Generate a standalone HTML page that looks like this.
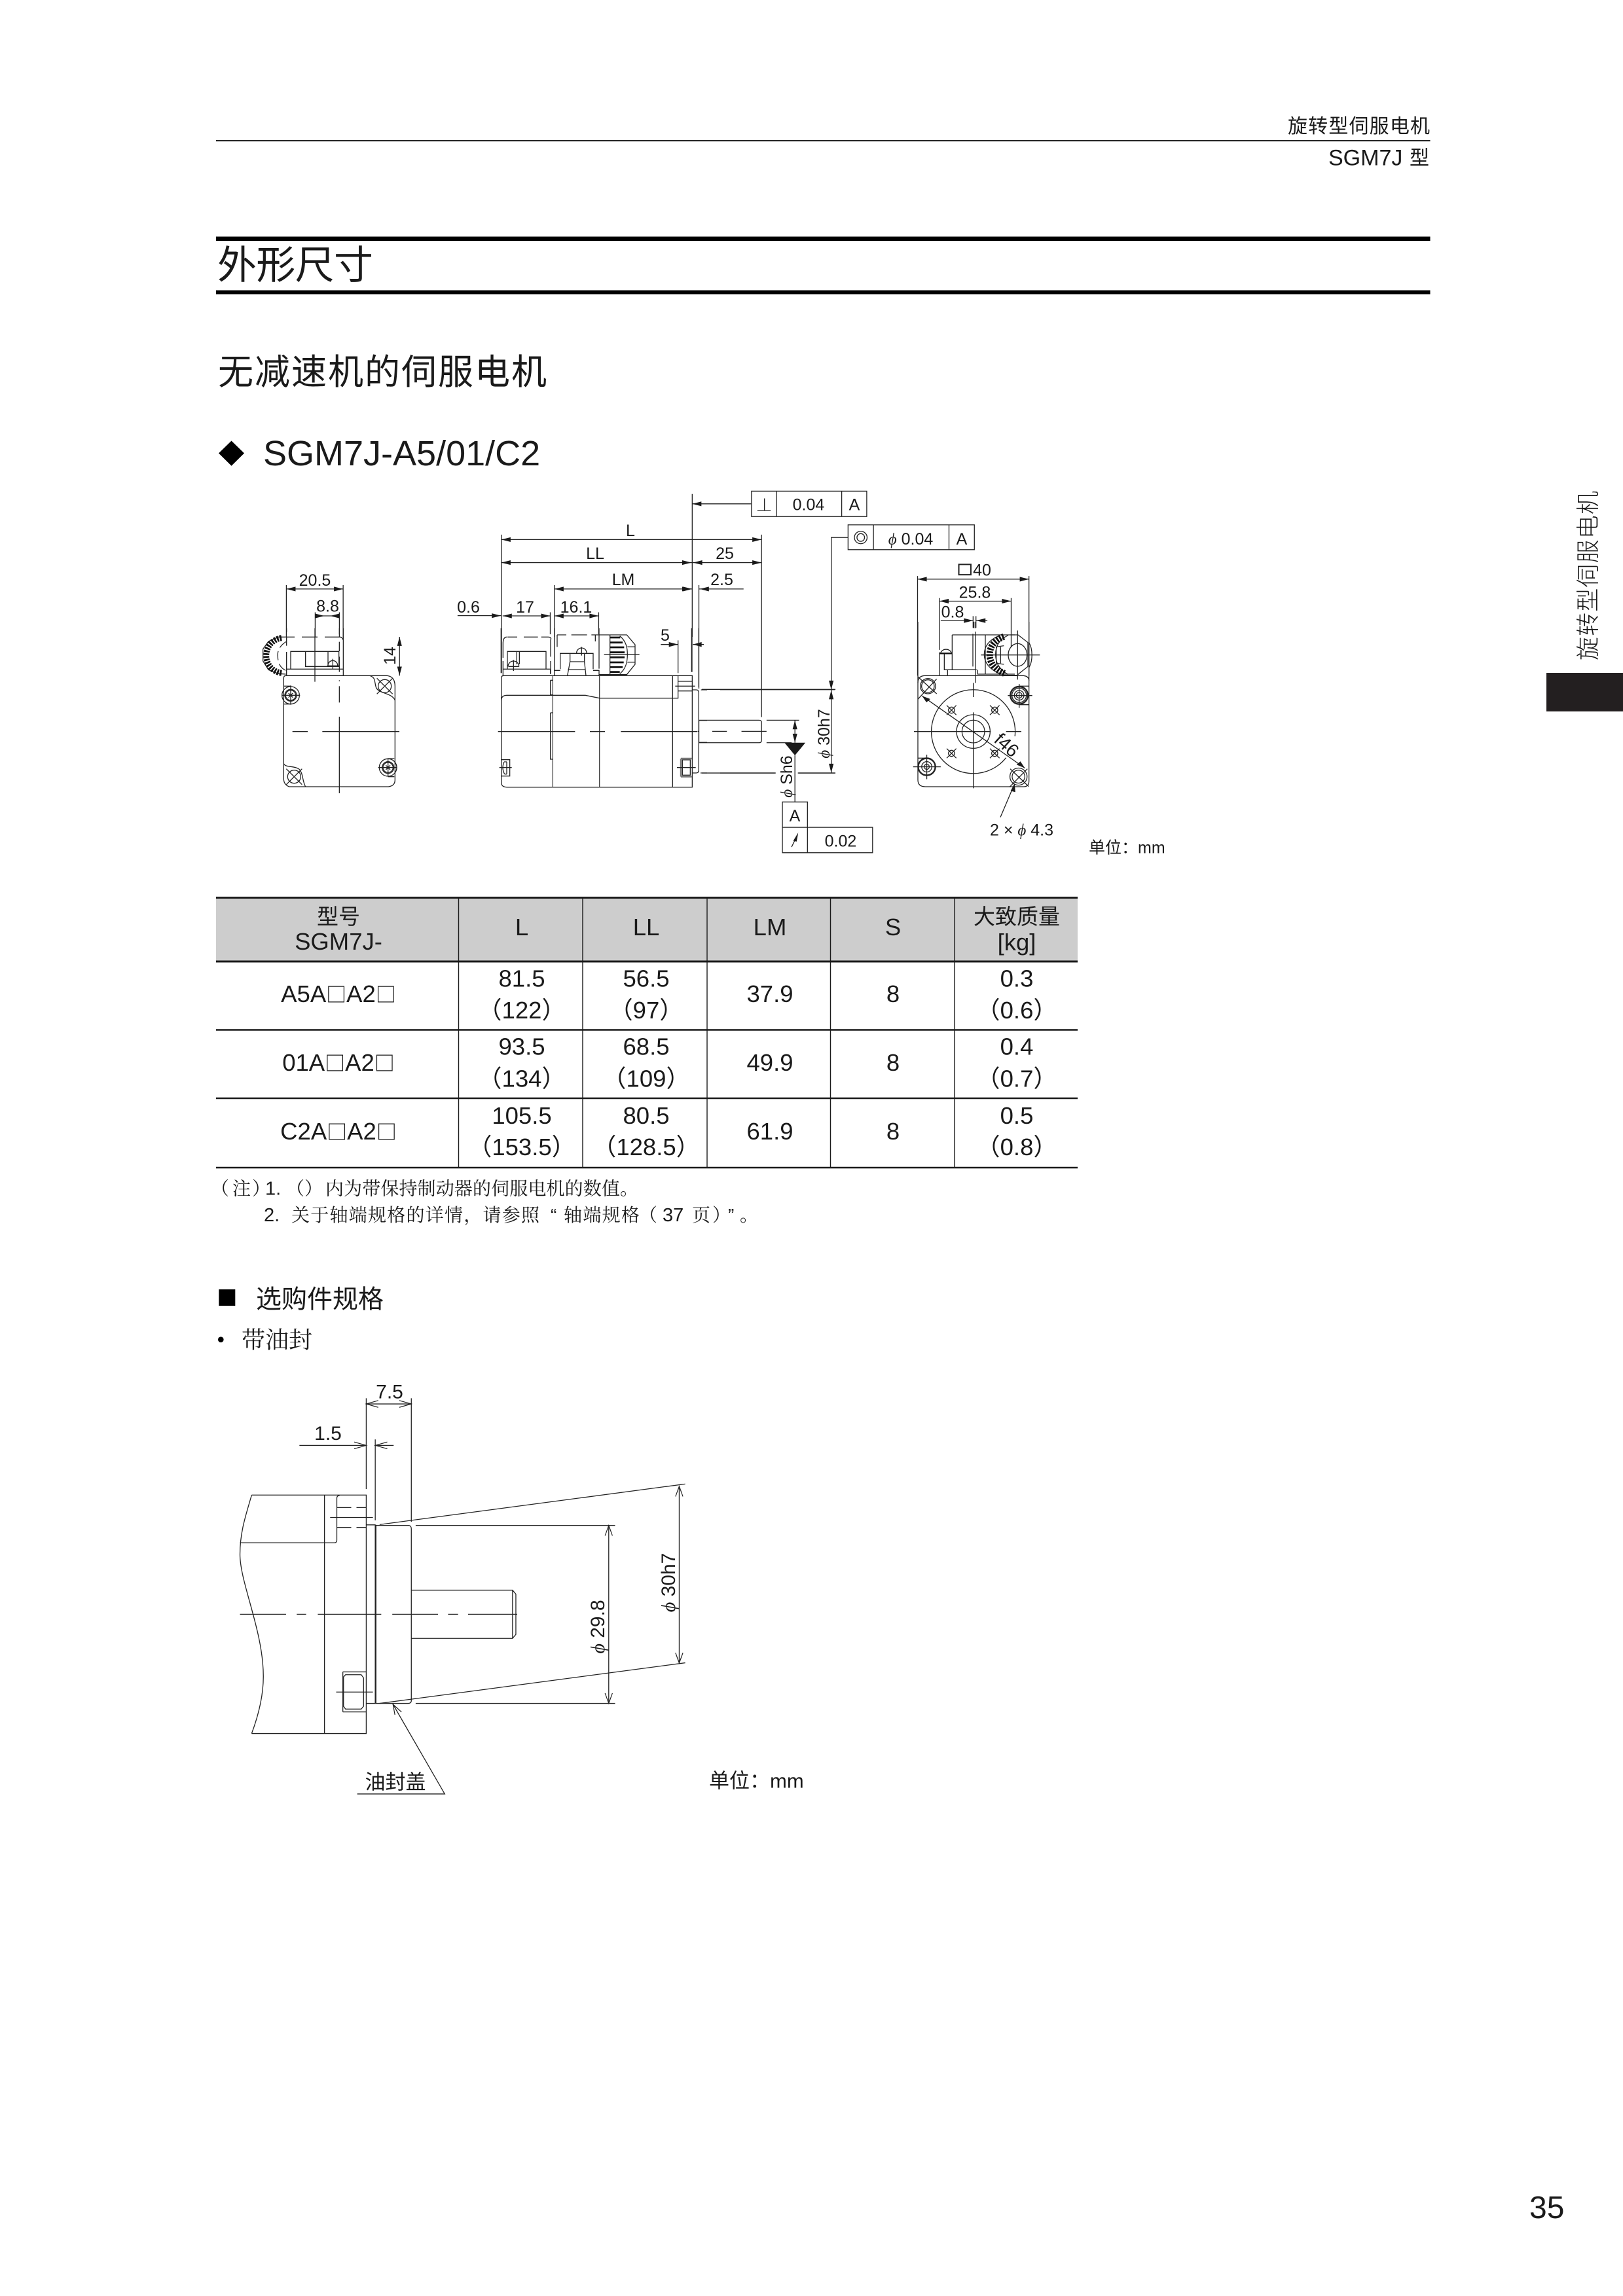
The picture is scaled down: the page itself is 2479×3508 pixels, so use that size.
<!DOCTYPE html>
<html lang="zh"><head><meta charset="utf-8"><title>SGM7J</title>
<style>
html,body{margin:0;padding:0;background:#fff}
svg{display:block}
path,line,rect,ellipse,polyline,circle{vector-effect:non-scaling-stroke}
text{fill:#1a1a1a;font-family:"Liberation Sans","Noto Sans CJK SC",sans-serif}
.d text{text-anchor:middle}
.c{text-anchor:middle}
.f{fill:#1a1a1a;stroke:none}
.sf{font-family:"Liberation Sans","Noto Serif CJK SC",serif}
.ph{font-family:"Liberation Serif","DejaVu Serif",serif;font-style:italic}
.bx{font-family:"Noto Sans CJK SC",sans-serif;font-size:31px;font-weight:500}
</style></head><body>
<svg xmlns="http://www.w3.org/2000/svg" width="2479" height="3508" viewBox="0 0 2479 3508">
<rect width="2479" height="3508" fill="#fff"/>
<defs>
<path id="r1" class="f" d="M0 0L-22 -9L-22 9Z"/><path id="l1" class="f" d="M0 0L22 -9L22 9Z"/>
<path id="u1" class="f" d="M0 0L-5.6 35L5.6 35Z"/><path id="d1" class="f" d="M0 0L-5.6 -35L5.6 -35Z"/>
<path id="r2" class="f" d="M0 0L-29 -9L-29 9Z"/><path id="l2" class="f" d="M0 0L29 -9L29 9Z"/>
<path id="u2" class="f" d="M0 0L-7.4 35L7.4 35Z"/><path id="d2" class="f" d="M0 0L-7.4 -35L7.4 -35Z"/>
<path id="r3" d="M-36 -12L0 0L-36 12" fill="none" stroke="#222" stroke-width="1.2"/>
<path id="l3" d="M36 -12L0 0L36 12" fill="none" stroke="#222" stroke-width="1.2"/>
<path id="u3" d="M-11 36L0 0L11 36" fill="none" stroke="#222" stroke-width="1.2"/>
<path id="d3" d="M-11 -36L0 0L11 -36" fill="none" stroke="#222" stroke-width="1.2"/>
</defs>

<!-- header -->
<text x="1967" y="203" font-size="30" textLength="217">旋转型伺服电机</text>
<rect x="330" y="214" width="1854.5" height="2" fill="#222"/>
<text x="2029" y="252.500" font-size="34">SGM7J</text>
<text x="2153" y="251.500" font-size="30">型</text>
<rect x="330" y="361.500" width="1854.5" height="6.500" fill="#000"/>
<rect x="330" y="443.500" width="1854.5" height="6" fill="#000"/>
<text x="332" y="426" font-size="60" textLength="238">外形尺寸</text>
<text x="333" y="587" font-size="54" textLength="502">无减速机的伺服电机</text>
<path d="M353.500 673.500L373 692.500L353.500 711.800L334 692.500Z" fill="#000"/>
<text x="402" y="711" font-size="54">SGM7J-A5/01/C2</text>
<text transform="translate(2438,1009) rotate(-90)" font-size="36" textLength="259" font-weight="300">旋转型伺服电机</text>
<rect x="2362" y="1028" width="117" height="59" fill="#231f20"/>
<text x="2336" y="3389" font-size="48">35</text>

<!-- drawing 1 dims -->
<g transform="translate(380,720) scale(.63776,.39541)" fill="none" stroke="#222" stroke-width="1.3">
<path d="M90 440V640M226 440V640M90 455H226M159 545V640M217 545V640M159 559H217M361 640V790"/>
<path d="M605 245V640M1228 245V950M1062 88V640M1078 440V840M732 440V640M838 545V630M722 545V630"/>
<path d="M605 264H1228M605 353H1228M732 455H1062M1078 455H1185M608 559H722M500 558H605M732 559H838"/>
<path d="M1062 126H1204M1204 77H1480V175H1204ZM1264 77V175M1420 77V175M1218 152H1250M1235 105V152"/>
<path d="M1085 843H1405M1085 1166H1260M1315 1166H1405"/>
<path d="M1240 962H1318M1240 1049H1300M1308 962V1049M1308 1098V1278"/>
<path d="M1278 1278H1338V1376H1278ZM1278 1376H1494V1474H1278ZM1338 1376V1474M1300 1452L1314 1405"/>
<path class="f" d="M1316 1396L1304 1428L1312 1431Z"/>
<path class="f" d="M1283 1049H1333L1308 1098Z"/>
<path d="M1078 962H1222Q1228 962 1228 970V1040Q1228 1049 1222 1049H1078V962"/>
<path d="M1078 1005H1075M1110 1005H1145M1180 1005H1240"/>
</g>
<g transform="translate(380,720) scale(.63776,.39541)">
<use href="#l1" x="90" y="455"/><use href="#r1" x="226" y="455"/>
<use href="#r1" x="181" y="559"/><use href="#l1" x="195" y="559"/><use href="#u1" x="361" y="640"/><use href="#d1" x="361" y="790"/>
<use href="#l1" x="605" y="264"/><use href="#r1" x="1228" y="264"/>
<use href="#l1" x="605" y="353"/><use href="#r1" x="1060" y="353"/><use href="#l1" x="1064" y="353"/><use href="#r1" x="1228" y="353"/>
<use href="#l1" x="732" y="455"/><use href="#r1" x="1060" y="455"/><use href="#r1" x="1062" y="455"/><use href="#l1" x="1080" y="455"/>
<use href="#l1" x="608" y="559"/><use href="#r1" x="722" y="559"/><use href="#r1" x="604" y="558"/>
<use href="#l1" x="732" y="559"/><use href="#r1" x="838" y="559"/>
<use href="#l1" x="1062" y="126"/>
<use href="#u1" x="1308" y="962"/><use href="#d1" x="1308" y="1049"/>
</g>

<!-- left view detail -->
<g transform="translate(395,960) scale(.33333)" fill="none" stroke="#222" stroke-width="1.3">
<path d="M128 0V18M128 40V80M128 108V215M128 40H165M198 40H270M303 40H372Q385 40 385 52M388 0V217M370 0V28M370 62V105M370 130V200"/>
<path d="M147 187V106H368V175H215V106M318 106V170M128 187H388M128 217H388M314 172H368M318 170A22 22 0 0 1 362 170M340 140V185"/>
<path d="M258 0V245M370 238V243M370 265V340M370 405V756"/>
<path d="M128 40H90L45 60L20 95V150L45 190L90 208L125 210"/>
<path d="M105 44C58 52 35 90 35 125C35 160 58 198 105 205" stroke-width="9" stroke="#111" stroke-dasharray="2.800 1.600"/>
<path d="M128 60C95 80 85 105 88 130C88 165 105 185 128 195" stroke-dasharray="14 6"/>
<path d="M125 217H590Q625 222 625 265V695Q625 722 595 726H140Q115 716 115 690V228Q115 217 125 217"/>
<path d="M510 217C535 225 530 240 538 270C548 300 612 295 625 330M115 620C125 640 160 628 185 645C205 665 200 700 215 726"/>
<path d="M115 265H150M115 347H150"/>
<circle cx="147" cy="307" r="40"/><circle cx="147" cy="307" r="27"/><circle cx="147" cy="307" r="23"/>
<path d="M105 307H190M147 262V350M137 297L157 317M157 297L137 317"/>
<circle cx="593" cy="638" r="40"/><circle cx="593" cy="638" r="27"/><circle cx="593" cy="638" r="23"/>
<path d="M548 638H632M593 595V680M593 597H622M593 680H622M583 628L603 648M603 628L583 648"/>
<circle cx="578" cy="265" r="30"/><path d="M542 229L614 301M614 229L542 301"/>
<circle cx="163" cy="680" r="30"/><path d="M127 716L199 644M127 644L199 716"/>
<path d="M155 473H225M292 473H645"/>
</g>

<!-- side view detail -->
<g transform="translate(750,960) scale(.33333)" fill="none" stroke="#222" stroke-width="1.3">
<path d="M47 0V205" stroke-width="2"/>
<path d="M55 205V217M75 40H120M150 40H215M230 40H262Q275 40 275 50M55 70Q55 40 72 40M55 70V135M55 150V205M273 50V130M273 150V205M290 0V195"/>
<path d="M75 187V106H252V187M118 106V165M130 106V165M55 187H272V210M80 175H128M78 175A25 25 0 0 1 128 175M103 145V195"/>
<path d="M303 30H345M368 30H440M460 30H545M303 30V85M478 30V60M495 0V185"/>
<path d="M317 187V115H468V187M290 217V193H317M495 217V193H468M362 115V153H428V115M362 153L350 217M428 153L435 217M352 190H433M392 113A23 23 0 0 1 438 113M415 85V125M495 212H545"/>
<path d="M545 30V212M545 30H622L660 75V165L622 212H545M590 35C620 60 625 90 625 120C625 150 620 185 590 208M625 85H660V155H625M518 121H680"/>
<path d="M545 42H592M545 65H603M545 87H610M545 110H612M545 133H612M545 156H608M545 178H603M545 200H590" stroke-width="2.800" stroke="#111"/>
<path d="M857 55V205M920 0V200" />
<path d="M920 0V200" stroke-width="2"/>
<path d="M952 0V270M778 74H857M925 74H975"/>
<path class="f" d="M857 74L815 63V85ZM925 74L965 63V85Z"/>
<path d="M47 228Q47 217 58 217H922V728H72Q47 728 47 705V228"/>
<path d="M283 217V728M497 217V728" stroke="#444"/>
<path d="M832 217V728" />
<path d="M272 238H283M272 238V305H283M272 387H283M272 387V600H283"/>
<path d="M47 330Q47 308 72 307H432L497 320H857V217"/>
<path d="M857 243H922M844 265H935M857 287H922M922 282H940Q952 282 952 295V650Q952 663 940 663H922"/>
<path d="M952 422H990M952 523H990M962 282H990M960 663H990"/>
<path d="M32 473H385M453 473H522M595 473H945"/>
<path d="M47 602H86V677H47M60 612C52 630 52 650 62 668M72 612V668M60 612H72M62 668H72M38 638H95"/>
<path d="M870 597H920M870 680H920M870 597V680" stroke-width="2.400" stroke="#777"/>
<path d="M877 603H913V673H877ZM852 638H938"/>
</g>

<!-- end view detail -->
<g transform="translate(1390,950) scale(.33333)" fill="none" stroke="#222" stroke-width="1.3">
<path d="M193 60H480M193 60V220M345 60V240M288 55V205M300 45V280M293 0V30M300 0V30"/>
<path d="M135 140V245M157 145V220H305M172 220V245M310 220V240H480M140 145C145 120 185 120 190 145"/>
<path d="M136 145H192" stroke-width="2.400" stroke="#111"/>
<path d="M405 65C360 85 340 115 340 150C340 190 370 225 420 240M450 62C410 80 392 110 392 150C392 190 410 220 450 242"/>
<path d="M430 68C385 85 365 115 365 150C365 190 390 220 435 238" stroke-width="10" stroke="#111" stroke-dasharray="2.800 1.800"/>
<path d="M430 110L395 115V190L430 195M415 115V190"/>
<path d="M460 60H495L540 95V205L490 245H420M545 95C563 125 563 180 545 210"/>
<ellipse cx="493" cy="152" rx="43" ry="52"/>
<path d="M325 152H595M493 40V265"/>
<path d="M36 0V725Q36 756 70 756H520Q545 756 545 730V0"/>
<path d="M36 280Q36 247 70 247H520Q545 250 545 270"/>
<circle cx="82" cy="295" r="35"/><circle cx="82" cy="295" r="29"/>
<path d="M36 252L122 330M122 262L36 355"/>
<circle cx="500" cy="337" r="40" stroke-width="2.400"/><circle cx="500" cy="337" r="33"/><circle cx="500" cy="337" r="22"/><circle cx="500" cy="337" r="13"/>
<path d="M448 338H560M500 285V395M500 295H545M500 380H545"/>
<path d="M440 623A192 192 0 1 1 480.600 525"/>
<circle cx="290" cy="503" r="77"/><circle cx="290" cy="503" r="52"/>
<path d="M18 503H370M440 503H510M290 280V345M290 415V763"/>
<circle cx="190" cy="405" r="14"/><path d="M168 383L212 427M212 383L168 427"/>
<circle cx="388" cy="405" r="14"/><path d="M366 383L410 427M410 383L366 427"/>
<circle cx="190" cy="603" r="14"/><path d="M168 581L212 625M212 581L168 625"/>
<circle cx="388" cy="603" r="14"/><path d="M366 581L410 625M410 581L366 625"/>
<path d="M36 625H85"/>
</g>

<!-- end view dims and remaining parts -->
<g transform="translate(1100,720) scale(.48473,.39541)" fill="none" stroke="#222" stroke-width="1.3">
<path d="M403 207H801V303H403ZM483 207V303M721 207V303M403 256H350V1165"/>
<ellipse cx="443" cy="256" rx="20" ry="24"/><ellipse cx="443" cy="256" rx="12" ry="15"/>
<path d="M0 844H362M0 1166H175M247 1166H362"/>
<path d="M622 405V790M973 405V790M622 417H973M691 490V690M917 490V680M691 502H917M695 577H797M807 577H842M797 560V605M806 560V605"/>
<ellipse cx="940" cy="1180" rx="27" ry="33"/><ellipse cx="940" cy="1180" rx="20" ry="25"/><path d="M912 1220L968 1150M914 1150L972 1218"/>
<ellipse cx="651" cy="1142" rx="27" ry="33" stroke-width="2.400"/><ellipse cx="651" cy="1142" rx="16" ry="20"/><ellipse cx="651" cy="1142" rx="8" ry="10"/>
<path d="M608 1142H695M651 1095V1190"/>
<path d="M636 868L960 1147M883 1337L928 1207"/>
<path class="f" d="M636 868L662 880L650 893Z"/>
<path class="f" d="M960 1147L934 1134L946 1121Z"/>
<path class="f" d="M928 1207L930 1240L915 1235Z"/>
<path stroke-width="2" d="M752 360H790V400H752Z"/>
</g>
<g transform="translate(1100,720) scale(.48473,.39541)">
<use href="#d2" x="350" y="844"/><use href="#u2" x="350" y="846"/><use href="#d2" x="350" y="1165"/>
<use href="#l2" x="622" y="417"/><use href="#r2" x="973" y="417"/>
<use href="#l2" x="691" y="502"/><use href="#r2" x="917" y="502"/>
<use href="#r2" x="797" y="577"/><use href="#l2" x="807" y="577"/>
</g>

<!-- drawing labels -->
<g class="d" font-size="25">
<text x="481" y="886" dy=".36em">20.5</text>
<text x="500.500" y="925.500" dy=".36em">8.8</text>
<text transform="translate(595,1002) rotate(-90)" dy=".36em">14</text>
<text x="963" y="810" dy=".36em">L</text>
<text x="909" y="845" dy=".36em">LL</text>
<text x="1107" y="845" dy=".36em">25</text>
<text x="952" y="885" dy=".36em">LM</text>
<text x="1102.500" y="885" dy=".36em">2.5</text>
<text x="715.500" y="927" dy=".36em">0.6</text>
<text x="802" y="927" dy=".36em">17</text>
<text x="880" y="927" dy=".36em">16.1</text>
<text x="1016" y="970" dy=".36em">5</text>
<text transform="translate(1201,1186.500) rotate(-90)" dy=".36em"><tspan class="ph">ϕ</tspan> Sh6</text>
<text transform="translate(1258,1121) rotate(-90)" dy=".36em"><tspan class="ph">ϕ</tspan> 30h7</text>
<text x="1235" y="770.500" dy=".36em">0.04</text>
<text x="1305" y="770.500" dy=".36em">A</text>
<text x="1214" y="1246" dy=".36em">A</text>
<text x="1284" y="1284.500" dy=".36em">0.02</text>
<text x="1391" y="823" dy=".36em"><tspan class="ph">ϕ</tspan> 0.04</text>
<text x="1469" y="823" dy=".36em">A</text>
<text x="1500" y="870.500" dy=".36em">40</text>
<text x="1489" y="904.500" dy=".36em">25.8</text>
<text x="1455" y="934.500" dy=".36em">0.8</text>
<text x="1560.500" y="1267.500" dy=".36em">2 × <tspan class="ph">ϕ</tspan> 4.3</text>
<text transform="translate(1538,1138) rotate(42)" dy=".36em" font-size="28">f46</text>
</g>
<text x="1663" y="1294.500" dy=".36em" font-size="25">单位：mm</text>

<!-- table -->
<rect x="330" y="1372" width="1316" height="97" fill="#cdcdcd"/>
<g stroke="#1a1a1a">
<path d="M330 1371.500H1646M330 1469H1646" stroke-width="3"/>
<path d="M330 1573.500H1646M330 1678H1646M330 1784H1646" stroke-width="2.500"/>
<path d="M700.500 1370V1784M890 1370V1784M1080 1370V1784M1268.500 1370V1784M1458 1370V1784" stroke-width="1.400"/>
</g>
<g font-size="36.500">
<text class="c" x="517" y="1400" dy=".37em" font-size="33">型号</text>
<text class="c" x="517" y="1438" dy=".36em">SGM7J-</text>
<text class="c" x="797" y="1416" dy=".36em">L</text>
<text class="c" x="987" y="1416" dy=".36em">LL</text>
<text class="c" x="1176" y="1416" dy=".36em">LM</text>
<text class="c" x="1364" y="1416" dy=".36em">S</text>
<text class="c" x="1553" y="1400" dy=".37em" font-size="33">大致质量</text>
<text class="c" x="1553" y="1439" dy=".36em">[kg]</text>

<text class="c" x="517" y="1518" dy=".36em">A5A<tspan class="bx">□</tspan>A2<tspan class="bx">□</tspan></text>
<text class="c" x="797" y="1494.500" dy=".36em">81.5</text><text class="c" x="797" y="1543" dy=".36em">（122）</text>
<text class="c" x="987" y="1494.500" dy=".36em">56.5</text><text class="c" x="987" y="1543" dy=".36em">（97）</text>
<text class="c" x="1176" y="1518" dy=".36em">37.9</text>
<text class="c" x="1364" y="1518" dy=".36em">8</text>
<text class="c" x="1553" y="1494.500" dy=".36em">0.3</text><text class="c" x="1553" y="1543" dy=".36em">（0.6）</text>

<text class="c" x="517" y="1623" dy=".36em">01A<tspan class="bx">□</tspan>A2<tspan class="bx">□</tspan></text>
<text class="c" x="797" y="1598.500" dy=".36em">93.5</text><text class="c" x="797" y="1647.500" dy=".36em">（134）</text>
<text class="c" x="987" y="1598.500" dy=".36em">68.5</text><text class="c" x="987" y="1647.500" dy=".36em">（109）</text>
<text class="c" x="1176" y="1623" dy=".36em">49.9</text>
<text class="c" x="1364" y="1623" dy=".36em">8</text>
<text class="c" x="1553" y="1598.500" dy=".36em">0.4</text><text class="c" x="1553" y="1647.500" dy=".36em">（0.7）</text>

<text class="c" x="517" y="1728" dy=".36em">C2A<tspan class="bx">□</tspan>A2<tspan class="bx">□</tspan></text>
<text class="c" x="797" y="1704" dy=".36em">105.5</text><text class="c" x="797" y="1752" dy=".36em">（153.5）</text>
<text class="c" x="987" y="1704" dy=".36em">80.5</text><text class="c" x="987" y="1752" dy=".36em">（128.5）</text>
<text class="c" x="1176" y="1728" dy=".36em">61.9</text>
<text class="c" x="1364" y="1728" dy=".36em">8</text>
<text class="c" x="1553" y="1704" dy=".36em">0.5</text><text class="c" x="1553" y="1752" dy=".36em">（0.8）</text>
</g>

<!-- notes -->
<g font-size="28">
<text class="sf" x="322" y="1825.500">（</text>
<text class="sf" x="355" y="1825.500">注</text>
<text class="sf" x="385" y="1825.500">）</text>
<text x="405" y="1825.500" font-size="29">1.</text>
<text class="sf" x="437" y="1825.500">（）</text>
<text class="sf" x="497" y="1825.500" textLength="478">内为带保持制动器的伺服电机的数值。</text>
<text x="403" y="1866" font-size="29">2.</text>
<text class="sf" x="445" y="1866" textLength="379">关于轴端规格的详情，请参照</text>
<text class="sf" x="841" y="1866">“</text>
<text class="sf" x="861" y="1866" textLength="116">轴端规格</text>
<text class="sf" x="976" y="1866">（</text>
<text x="1012" y="1866" font-size="29">37</text>
<text class="sf" x="1057" y="1866">页</text>
<text class="sf" x="1088" y="1866">）</text>
<text class="sf" x="1112" y="1866">”</text>
<text class="sf" x="1130" y="1866">。</text>
</g>

<rect x="334.300" y="1970" width="25" height="25" fill="#000"/>
<text x="391" y="1998.500" font-size="39">选购件规格</text>
<circle cx="337.300" cy="2046.700" r="4.300" fill="#000"/>
<text class="sf" x="369" y="2059.500" font-size="36">带油封</text>

<!-- drawing 3 -->
<g transform="translate(340,2080) scale(.5102,.43367)" fill="none" stroke="#222" stroke-width="1.300">
<path d="M87 471H430V1311H87M305 471V1311M87 471C70 540 52 600 52 680C52 780 122 950 122 1110C122 1190 100 1270 87 1311"/>
<path d="M52 639H335Q342 639 342 630V482Q342 473 350 473"/>
<path stroke-dasharray="22 8" d="M342 515H430M342 585H430"/>
<path d="M322 550H450"/>
<path d="M430 576H458M430 1205H458"/>
<path d="M458 576V1205" stroke-width="2.400"/>
<path d="M458 578H558Q565 580 565 590V1195Q565 1205 555 1205H458"/>
<path d="M430 130V450M457 275V560M565 130V565M578 578H1175M578 1205H1175"/>
<path d="M430 150H565M230 296H430M457 296H512"/>
<path d="M470 575L1385 432M470 1205L1385 1062M1156 578V1205M1367 440V1063"/>
<path d="M565 806H868L878 820V962L868 976H565M868 806V976"/>
<path d="M52 891H190M222 891H250M285 891H475M508 891H645M675 891H705M735 891H882"/>
<path d="M360 1094H430M360 1235H430M360 1094V1235M368 1104H415L422 1115V1215L415 1225H368L362 1215V1112ZM340 1165H450"/>
<path d="M510 1208L665 1524H403"/>
</g>
<g transform="translate(340,2080) scale(.5102,.43367)">
<use href="#l3" x="430" y="150"/><use href="#r3" x="565" y="150"/>
<use href="#r3" x="430" y="296"/><use href="#l3" x="457" y="296"/>
<use href="#u3" x="1156" y="578"/><use href="#d3" x="1156" y="1205"/>
<use href="#u3" x="1367" y="440"/><use href="#d3" x="1367" y="1063"/>
<use href="#u3" transform="rotate(-26 510 1208)" x="510" y="1208"/>
</g>
<g class="d" font-size="30">
<text x="595" y="2125.500" dy=".36em">7.5</text>
<text x="501" y="2189" dy=".36em">1.5</text>
<text transform="translate(912,2485.500) rotate(-90)" dy=".36em"><tspan class="ph">ϕ</tspan> 29.8</text>
<text transform="translate(1020,2418) rotate(-90)" dy=".36em"><tspan class="ph">ϕ</tspan> 30h7</text>
<text x="604" y="2722" dy=".37em" font-size="31">油封盖</text>
</g>
<text x="1083" y="2720" dy=".37em" font-size="31">单位：mm</text>
</svg>
</body></html>
